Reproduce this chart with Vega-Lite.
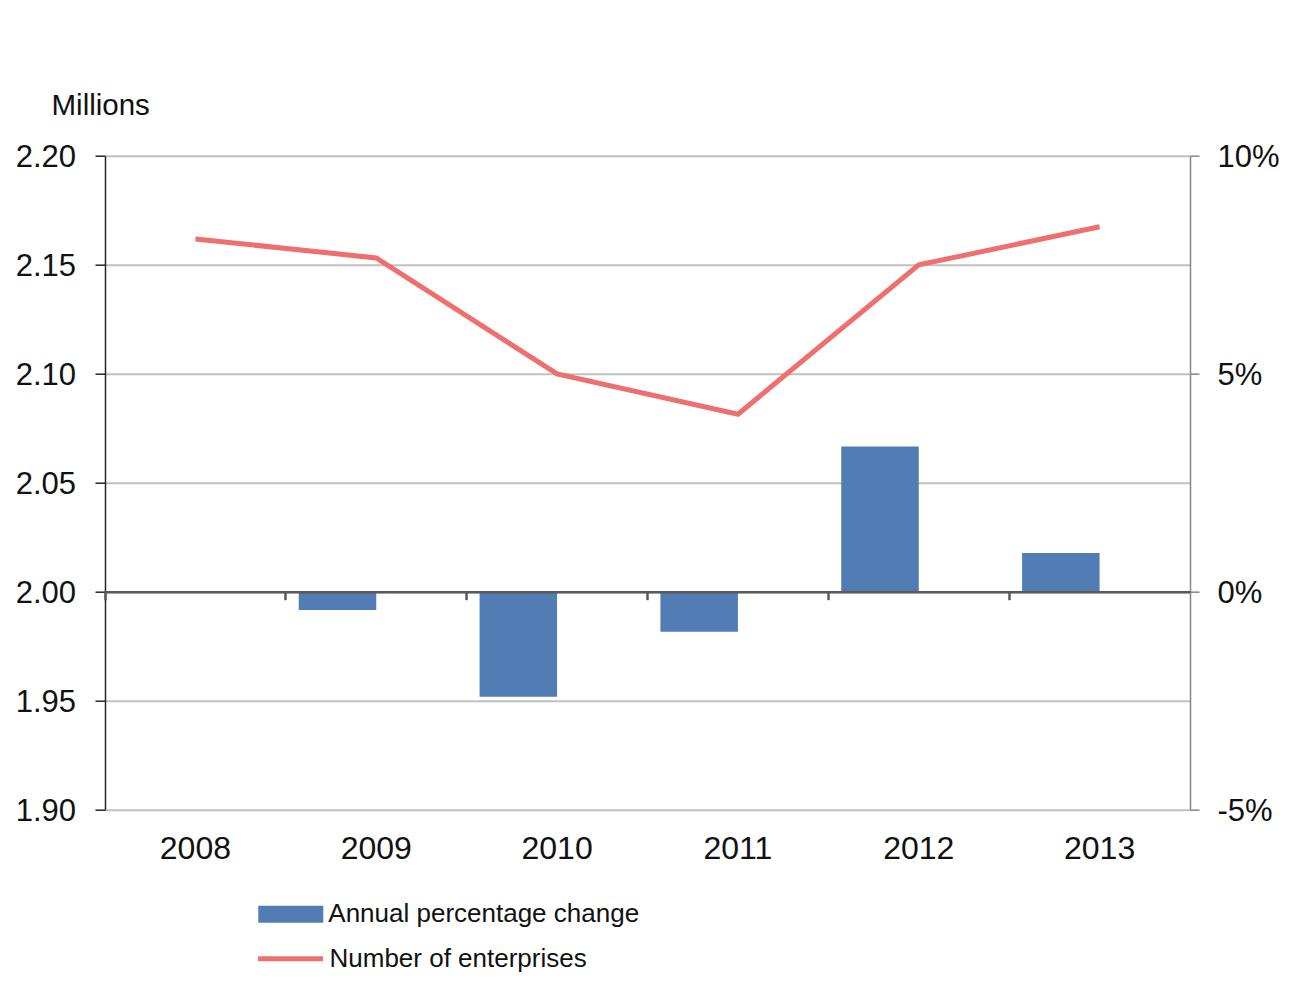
{
  "$schema": "https://vega.github.io/schema/vega-lite/v6.json",
  "width": 1085,
  "height": 654,
  "autosize": {"type": "none"},
  "padding": {"left": 105, "top": 155.7, "right": 101, "bottom": 184.3},
  "background": "white",
  "config": {
    "view": {"stroke": null},
    "font": "Liberation Sans",
    "axis": {"labelFont": "Liberation Sans", "labelColor": "#111111", "titleFont": "Liberation Sans"},
    "legend": {"labelFont": "Liberation Sans", "labelColor": "#111111"}
  },
  "data": {
    "values": [
      {"year": "2008", "enterprises": 2.1618, "pct_change": 0.0},
      {"year": "2009", "enterprises": 2.1531, "pct_change": -0.42},
      {"year": "2010", "enterprises": 2.0999, "pct_change": -2.41},
      {"year": "2011", "enterprises": 2.0814, "pct_change": -0.92},
      {"year": "2012", "enterprises": 2.1499, "pct_change": 3.33},
      {"year": "2013", "enterprises": 2.1674, "pct_change": 0.89}
    ]
  },
  "layer": [
    {
      "mark": {"type": "bar", "width": {"band": 0.4286}, "xOffset": -38.75, "color": "#527DB4"},
      "encoding": {
        "x": {
          "field": "year",
          "type": "ordinal",
          "scale": {"paddingInner": 0, "paddingOuter": 0},
          "axis": {
            "orient": "bottom",
            "offset": -218,
            "bandPosition": 0,
            "domainColor": "#595959",
            "domainWidth": 2.5,
            "tickColor": "#595959",
            "tickWidth": 2.5,
            "tickSize": 8,
            "labelOffset": 0,
            "labelPadding": 234,
            "labelFontSize": 32,
            "labelAngle": 0,
            "title": null,
            "grid": false,
            "zindex": 1
          }
        },
        "y": {
          "field": "pct_change",
          "type": "quantitative",
          "scale": {"domain": [-5, 10], "nice": false, "zero": true},
          "axis": {
            "orient": "right",
            "values": [-5, 0, 5, 10],
            "labelExpr": "datum.value + '%'",
            "grid": false,
            "domainColor": "#868686",
            "domainWidth": 1.5,
            "tickColor": "#868686",
            "tickWidth": 1.5,
            "tickSize": 9,
            "labelPadding": 18,
            "labelFontSize": 31,
            "labelOffset": 2,
            "title": null
          }
        },
        "fill": {
          "datum": "Annual percentage change",
          "scale": {"range": ["#527DB4"]},
          "legend": {
            "title": null,
            "orient": "none",
            "legendX": 153.3,
            "legendY": 726,
            "padding": 0,
            "symbolType": "M-1,-0.26H1V0.26H-1Z",
            "symbolSize": 4225,
            "symbolStrokeWidth": 0,
            "labelFontSize": 26,
            "labelOffset": 5,
            "labelLimit": 0
          }
        }
      }
    },
    {
      "mark": {"type": "line", "strokeWidth": 5, "color": "#EF6E6E"},
      "encoding": {
        "x": {"field": "year", "type": "ordinal"},
        "y": {
          "field": "enterprises",
          "type": "quantitative",
          "scale": {"domain": [1.9, 2.2], "nice": false, "zero": false},
          "axis": {
            "orient": "left",
            "values": [1.9, 1.95, 2.0, 2.05, 2.1, 2.15, 2.2],
            "format": ".2f",
            "grid": true,
            "gridColor": "#C0C0C0",
            "gridWidth": 2,
            "domainColor": "#262626",
            "domainWidth": 1.5,
            "tickColor": "#262626",
            "tickWidth": 1.5,
            "tickSize": 10,
            "labelPadding": 19.5,
            "labelFontSize": 31,
            "labelOffset": 2,
            "title": "Millions",
            "titleAngle": 0,
            "titleX": -54,
            "titleY": -41.4,
            "titleAlign": "left",
            "titleBaseline": "alphabetic",
            "titleFontSize": 29.5,
            "titleFontWeight": "normal",
            "titleColor": "#111111"
          }
        },
        "stroke": {
          "datum": "Number of enterprises",
          "scale": {"range": ["#EF6E6E"]},
          "legend": {
            "title": null,
            "orient": "none",
            "legendX": 150.5,
            "legendY": 768,
            "padding": 0,
            "symbolType": "stroke",
            "symbolSize": 4225,
            "symbolStrokeWidth": 5,
            "labelFontSize": 26,
            "labelOffset": 4,
            "labelLimit": 0
          }
        }
      }
    }
  ],
  "resolve": {"scale": {"y": "independent"}}
}
